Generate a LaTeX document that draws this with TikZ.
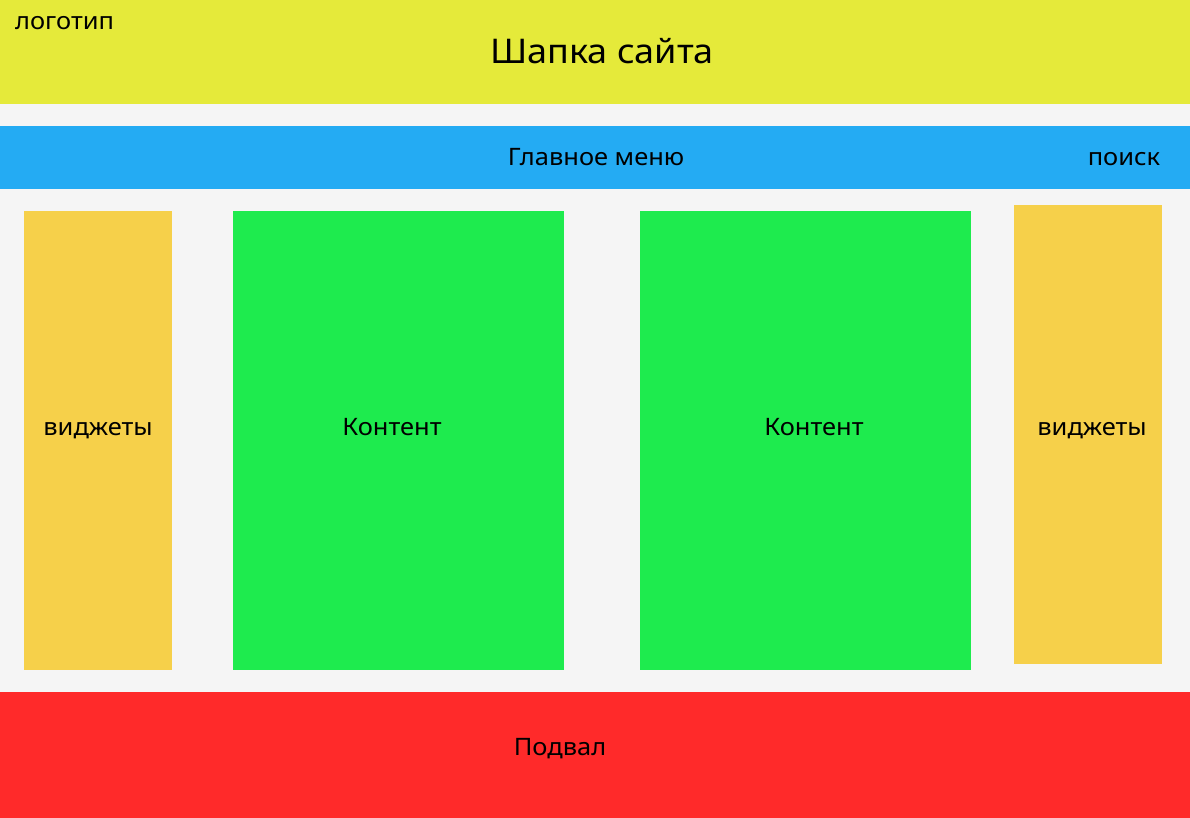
\documentclass[tikz,border=0pt]{standalone}
\usepackage{fontspec}
\setmainfont{Noto Sans}[FakeStretch=1.06]
\definecolor{bg}{HTML}{F5F5F5}
\definecolor{hdr}{HTML}{E5EA3A}
\definecolor{menu}{HTML}{24ABF3}
\definecolor{wid}{HTML}{F6D04A}
\definecolor{cont}{HTML}{1EEB4E}
\definecolor{foot}{HTML}{FF2A2A}
\tikzset{
  lbl/.style={inner sep=0pt, anchor=base, font=\fontsize{24}{28}\selectfont},
  big/.style={inner sep=0pt, anchor=base, font=\fontsize{34}{40}\selectfont},
}
\begin{document}
\begin{tikzpicture}[x=1pt,y=-1pt]
\useasboundingbox (0,0) rectangle (1190,818);
\fill[bg] (0,0) rectangle (1190,818);
\fill[hdr] (0,0) rectangle (1190,104);
\fill[menu] (0,126) rectangle (1190,189);
\fill[wid] (24,211) rectangle (172,670);
\fill[cont] (233,211) rectangle (564,670);
\fill[cont] (640,211) rectangle (971,670);
\fill[wid] (1014,205) rectangle (1162,664);
\fill[foot] (0,692) rectangle (1190,818);
\node[lbl, anchor=base west] (logo) at (15,30) {логотип};
\node[big] (title) at (602,64) {Шапка сайта};
\node[lbl] (mainmenu) at (596,166) {Главное меню};
\node[lbl] (search) at (1124,166) {поиск};
\node[lbl] (w1) at (98,435) {виджеты};
\node[lbl] (c1) at (392,435) {Контент};
\node[lbl] (c2) at (814,435) {Контент};
\node[lbl] (w2) at (1092,435) {виджеты};
\node[lbl] (footer) at (560,755) {Подвал};
\end{tikzpicture}
\end{document}
